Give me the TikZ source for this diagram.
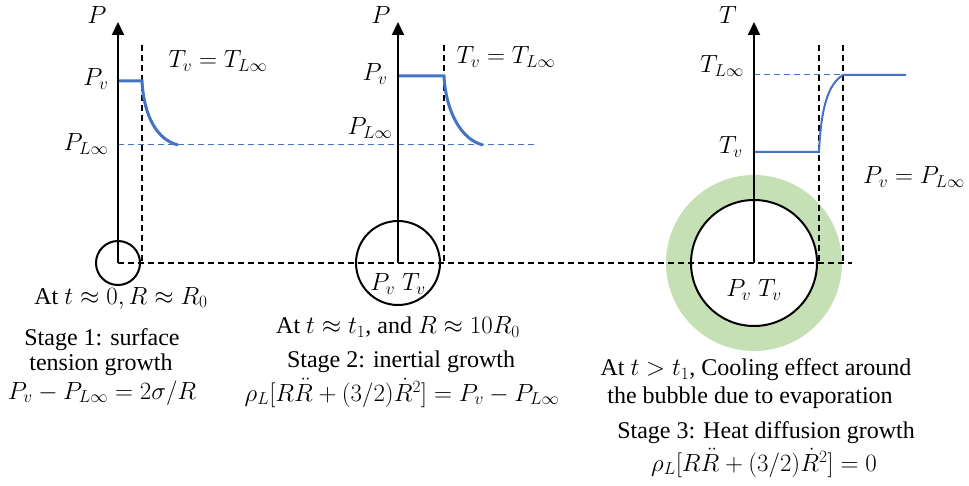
\documentclass[tikz,border=0pt]{standalone}
\usepackage{fontspec}
\setmainfont{Liberation Serif}
\usetikzlibrary{arrows.meta}
\definecolor{cblue}{RGB}{68,114,196}
\definecolor{cgreen}{RGB}{197,224,180}
\begin{document}
\begin{tikzpicture}[x=1pt,y=-1pt,
  txt/.style={inner sep=0pt,font=\fontsize{24}{27}\selectfont},
  mtxt/.style={inner sep=0pt,font=\fontsize{26}{28}\selectfont},
  axis/.style={line width=2pt,-{Triangle[width=12pt,length=13pt]}},
  vdash/.style={line width=1.4pt,dash pattern=on 6pt off 4pt},
  bcurve/.style={cblue,line width=3pt},
  bdash/.style={cblue,line width=1pt,dash pattern=on 6pt off 4pt}]
\useasboundingbox (0,0) rectangle (969,486);
% green ring
\fill[cgreen] (754,263) circle (88);
\fill[white] (754,263) circle (63);
% coordinates
\coordinate (o1) at (118,263); \coordinate (t1) at (118,22);
\coordinate (o2) at (398,263); \coordinate (t2) at (398,22);
\coordinate (o3) at (754,263); \coordinate (t3) at (754,22);
\coordinate (hend) at (852,263);
% horizontal dashed
\draw[vdash] (o1) -- (hend);
% vertical dashed
\coordinate (d1a) at (142,45); \coordinate (d1b) at (142,263);
\draw[vdash] (d1a) -- (d1b);
\coordinate (d2a) at (444,45); \coordinate (d2b) at (444,263);
\draw[vdash] (d2a) -- (d2b);
\coordinate (d3a) at (819,45); \coordinate (d3b) at (819,263);
\draw[vdash] (d3a) -- (d3b);
\coordinate (d4a) at (843,45); \coordinate (d4b) at (843,263);
\draw[vdash] (d4a) -- (d4b);
% bubbles
\draw[line width=2pt] (o1) circle (22);
\draw[line width=2pt] (o2) circle (42);
\draw[line width=2pt] (o3) circle (63);
% blue dashed levels
\coordinate (pl1) at (118,145); \coordinate (pl2) at (538,145);
\draw[bdash] (pl1) -- (pl2);
\coordinate (tl1) at (754,75); \coordinate (tl2) at (843,75);
\draw[bdash] (tl1) -- (tl2);
% blue curves
\coordinate (a1) at (118,81); \coordinate (b1) at (142,81); \coordinate (c1) at (178,145);
\draw[bcurve] (a1) -- (b1) .. controls (144,118) and (158,140) .. (c1);
\coordinate (a2) at (398,76); \coordinate (b2) at (444,76); \coordinate (c2) at (483,145);
\draw[bcurve] (a2) -- (b2) .. controls (446,113) and (462,140) .. (c2);
\coordinate (a3) at (754,152); \coordinate (b3) at (819,152); \coordinate (c3) at (843,75); \coordinate (e3) at (906,75);
\draw[cblue,line width=2pt] (a3) -- (b3) .. controls (821,108) and (828,84) .. (c3) -- (e3);
% axes
\draw[axis] (o1) -- (t1);
\draw[axis] (o2) -- (t2);
\draw[axis] (o3) -- (t3);
% axis labels
\node[mtxt] (P1) at (97,15) {$P$};
\node[mtxt] (P2) at (381,15) {$P$};
\node[mtxt] (T3) at (728,15) {$T$};
\node[mtxt] (pv1) at (96,79) {$P_v$};
\node[mtxt] (plinf1) at (86,144) {$P_{L\infty}$};
\node[mtxt] (tv1) at (218,61) {$T_v=T_{L\infty}$};
\node[mtxt] (pv2) at (375,74) {$P_v$};
\node[mtxt] (plinf2) at (370,128) {$P_{L\infty}$};
\node[mtxt] (tv2) at (506,57) {$T_v=T_{L\infty}$};
\node[mtxt] (tlinf3) at (722,66) {$T_{L\infty}$};
\node[mtxt] (tv3) at (731,147) {$T_v$};
\node[mtxt] (pv3) at (914,177) {$P_v=P_{L\infty}$};
\node[mtxt] (in2) at (398,284) {$P_v\;T_v$};
\node[mtxt] (in3) at (754,290) {$P_v\;T_v$};
% captions
\node[txt] (s1a) at (121,298) {At $t\approx 0, R\approx R_0$};
\node[txt] (s1b) at (102,340) {Stage 1: surface};
\node[txt] (s1c) at (101,365) {tension growth};
\node[txt] (s1d) at (102,393) {$P_v-P_{L\infty}=2\sigma/R$};
\node[txt] (s2a) at (398,327) {At $t\approx t_1$, and $R\approx 10R_0$};
\node[txt] (s2b) at (401,362) {Stage 2: inertial growth};
\node[txt] (s2c) at (402,393) {$\rho_L\smash{\bigl[}R\ddot R+(3/2)\dot R^2\smash{\bigr]}=P_v-P_{L\infty}$};
\node[txt] (s3a) at (756,370) {At $t>t_1$, Cooling effect around};
\node[txt] (s3b) at (750,398) {the bubble due to evaporation};
\node[txt] (s3c) at (766,433) {Stage 3: Heat diffusion growth};
\node[txt] (s3d) at (764,463) {$\rho_L\smash{\bigl[}R\ddot R+(3/2)\dot R^2\smash{\bigr]}=0$};
\end{tikzpicture}
\end{document}
